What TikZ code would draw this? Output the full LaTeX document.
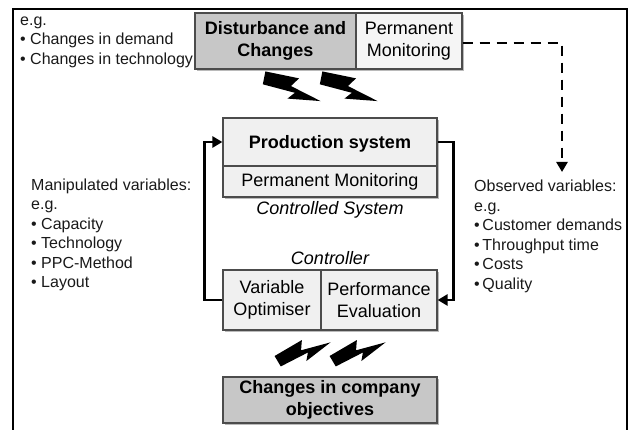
\documentclass[tikz,border=0pt]{standalone}
\usepackage{fontspec}
\setmainfont{Liberation Sans}
\usetikzlibrary{arrows.meta,shadows}

\definecolor{boxgray}{gray}{0.78}
\definecolor{boxlight}{gray}{0.94}
\definecolor{edgegray}{gray}{0.3}

\begin{document}
\begin{tikzpicture}[x=1pt,y=-1pt,
	box/.style={draw=edgegray, line width=1.2pt, fill=boxlight, inner sep=0pt, align=center,
		font=\fontsize{18}{22}\selectfont,
		drop shadow={shadow xshift=2pt, shadow yshift=-2pt, fill=black!45, opacity=.6}},
	darkbox/.style={box, fill=boxgray, font=\fontsize{18}{22}\selectfont\bfseries},
	sidetext/.style={anchor=north west, inner sep=0pt, align=left, text=black!90,
		font=\fontsize{16}{19.5}\selectfont},
	tag/.style={anchor=base, inner sep=0pt, font=\fontsize{18}{22}\selectfont\itshape},
	flow/.style={line width=2.5pt, -{Triangle[length=10pt,width=11pt]}},
	bolt/.pic={\fill (0,-7) -- (34,-12) -- (29,-2) -- (62,2) -- (30,11) -- (35,3) -- (2,6) -- cycle;}
		]
	\useasboundingbox (0,0) rectangle (632,430);
	\draw[line width=1.8pt] (13,434) -- (13,9) -- (627,9) -- (627,434);

	\node[darkbox, minimum width=161pt, minimum height=56pt] (dist) at (275.5,41) {Disturbance and\\Changes};
	\node[box, fill=black!4, minimum width=106pt, minimum height=56pt] (pmon) at (409,41) {Permanent\\Monitoring};

	\node[box, font=\fontsize{18}{22}\selectfont\bfseries, text depth=0pt, minimum width=214pt, minimum height=48pt] (prod) at (330,142) {Production system};
	\node[box, minimum width=214pt, minimum height=31pt] (prodmon) at (330,181.5) {Permanent Monitoring};
	\node[tag] (ctrlsys) at (330,215) {Controlled System};

	\node[tag] (ctrl) at (330,265) {Controller};
	\node[box, minimum width=98pt, minimum height=60pt] (varopt) at (272,300) {Variable\\Optimiser};
	\node[box, minimum width=116pt, minimum height=60pt] (perf) at (379,300) {Performance\\Evaluation};

	\node[darkbox, minimum width=214pt, minimum height=46pt] (goals) at (330,400) {Changes in company\\objectives};

	\node[sidetext] (dlist) at (20,16.5) {e.g.\\\textbullet\ Changes in demand\\\textbullet\ Changes in technology};
	\node[sidetext] (mlist) at (31,178.3) {Manipulated variables:\\e.g.\\\textbullet\ Capacity\\\textbullet\ Technology\\\textbullet\ PPC-Method\\\textbullet\ Layout};
	\node[sidetext] (olist) at (474,180.2) {Observed variables:\\e.g.\\\textbullet\,Customer demands\\\textbullet\,Throughput time\\\textbullet\,Costs\\\textbullet\,Quality};

	\draw[flow] (varopt.west) -- ++(-18,0) |- (prod.west);
	\draw[flow] (prod.east) -- ++(16,0) |- (perf.east);
	\coordinate (obs) at (562,172);
	\draw[flow, line width=2.8pt, dash pattern=on 10pt off 7pt] ([yshift=-2pt]pmon.east) -| (obs);

	\pic[rotate=-20] at (263,78) {bolt};
	\pic[rotate=-20] at (320,78) {bolt};
	\pic[rotate=22, scale=.92] at (277,362) {bolt};
	\pic[rotate=22, scale=.92] at (332,362) {bolt};
\end{tikzpicture}
\end{document}
